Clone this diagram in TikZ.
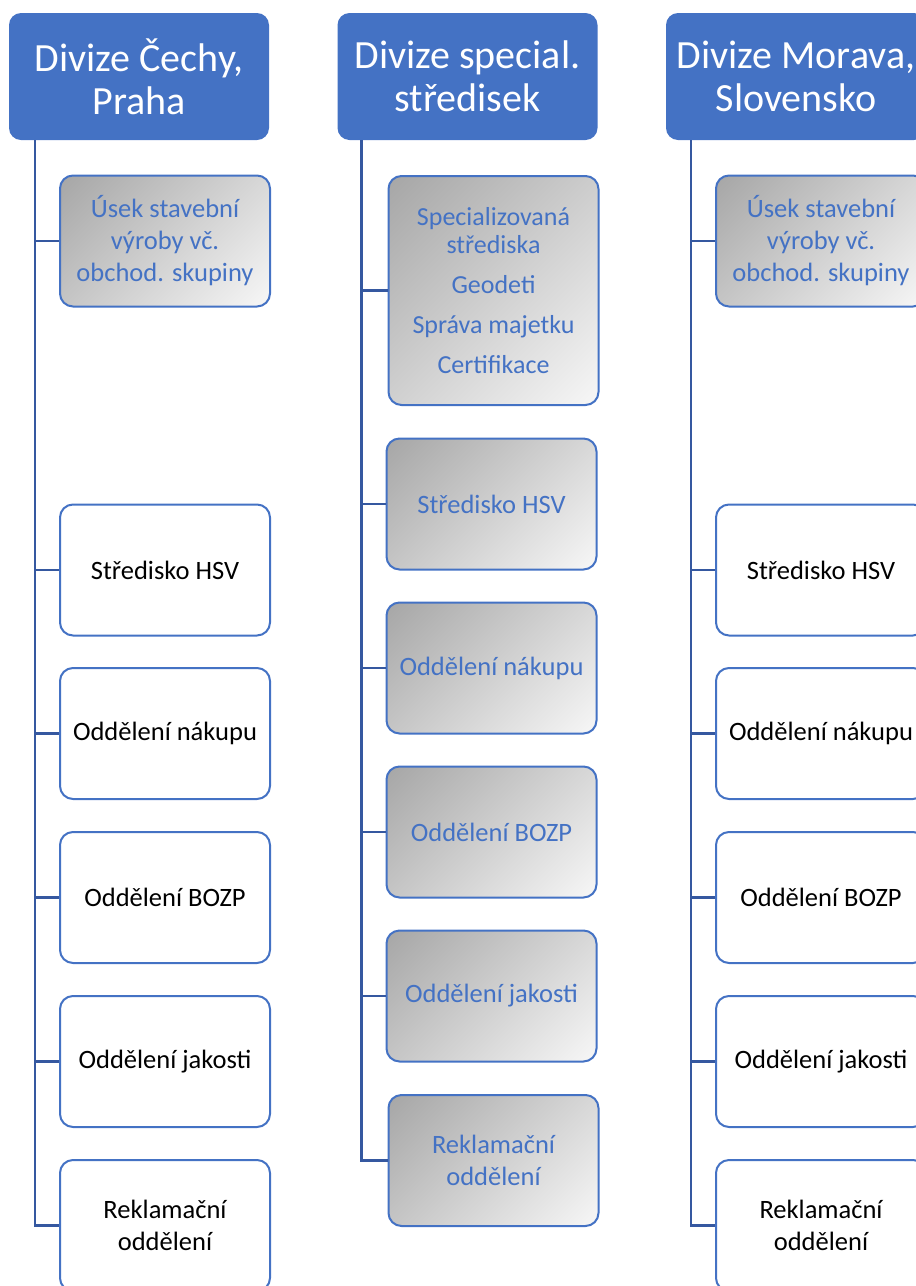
\documentclass[tikz,border=0pt]{standalone}
\usepackage{fontspec}
\setmainfont{Carlito}
\usepackage{tikz}

\definecolor{divblue}{HTML}{4472C4}
\definecolor{linkblue}{HTML}{3558A0}
\definecolor{fadedark}{HTML}{A6A6A6}
\definecolor{fadelight}{HTML}{F7F7F7}

\pgfdeclareverticalshading{unitfade}{100bp}{color(0bp)=(fadelight); color(14.6bp)=(fadelight);
  color(85.4bp)=(fadedark); color(100bp)=(fadedark)}

\tikzset{
  division/.style={shape=rectangle, rounded corners=12pt, fill=divblue, text=white,
    minimum width=260pt, minimum height=127pt, inner sep=0pt, align=center,
    font=\fontsize{40}{43}\selectfont},
  unit/.style={shape=rectangle, rounded corners=13pt, draw=divblue, line width=2pt,
    fill=white, minimum width=210pt, minimum height=131pt, inner sep=0pt, align=center,
    font=\fontsize{26.5}{32}\selectfont},
  graybox/.style={unit, shading=unitfade, shading angle=45, text=divblue},
  link/.style={draw=linkblue, line width=2.5pt}
}

\begin{document}
\begin{tikzpicture}[x=1pt, y=-1pt]
    \useasboundingbox (0,0) rectangle (916,1286);
    \clip (0,0) rectangle (916,1286);

    % divisions
    \node[division] at (139,76.5) (H1) {Divize Čechy,\\Praha};
    \node[division] at (467.5,76.5) (H2) {Divize special.\\středisek};
    \node[division] at (796,76.5) (H3) {Divize Morava,\\Slovensko};

    % Cechy, Praha
    \node[graybox] at (165,241) (L1) {Úsek stavební\\výroby vč.\\obchod. skupiny};
    \node[unit] at (165,570) (L2) {Středisko HSV};
    \node[unit] at (165,733.5) (L3) {Oddělení nákupu};
    \node[unit] at (165,897.5) (L4) {Oddělení BOZP};
    \node[unit] at (165,1061.5) (L5) {Oddělení jakosti};
    \node[unit] at (165,1225.5) (L6) {Reklamační\\oddělení};

    % special. strediska
    \node[graybox, minimum height=229pt, font=\fontsize{26}{28}\selectfont] at (493.5,290.5) (M1)
        {Specializovaná\\střediska\\[12pt]Geodeti\\[12pt]Správa majetku\\[12pt]Certifikace};
    \node[graybox] at (491.5,504) (M2) {Středisko HSV};
    \node[graybox] at (491.5,668) (M3) {Oddělení nákupu};
    \node[graybox] at (491.5,832) (M4) {Oddělení BOZP};
    \node[graybox] at (491.5,996) (M5) {Oddělení jakosti};
    \node[graybox] at (493.5,1160.5) (M6) {Reklamační\\oddělení};

    % Morava, Slovensko
    \node[graybox] at (821,241) (R1) {Úsek stavební\\výroby vč.\\obchod. skupiny};
    \node[unit] at (821,570) (R2) {Středisko HSV};
    \node[unit] at (821,733.5) (R3) {Oddělení nákupu};
    \node[unit] at (821,897.5) (R4) {Oddělení BOZP};
    \node[unit] at (821,1061.5) (R5) {Oddělení jakosti};
    \node[unit] at (821,1225.5) (R6) {Reklamační\\oddělení};

    % connectors
    \path (H1.south west) ++(26,0) coordinate (T1);
    \path (H2.south west) ++(24,0) coordinate (T2);
    \path (H3.south west) ++(25,0) coordinate (T3);
    \draw[link] (T1) |- (L6.west);
    \draw[link] (T2) |- (M6.west);
    \draw[link] (T3) |- (R6.west);
    \foreach \b in {L1,L2,L3,L4,L5} \draw[link] (T1 |- \b.west) -- (\b.west);
    \foreach \b in {M1,M2,M3,M4,M5} \draw[link] (T2 |- \b.west) -- (\b.west);
    \foreach \b in {R1,R2,R3,R4,R5} \draw[link] (T3 |- \b.west) -- (\b.west);
\end{tikzpicture}
\end{document}
